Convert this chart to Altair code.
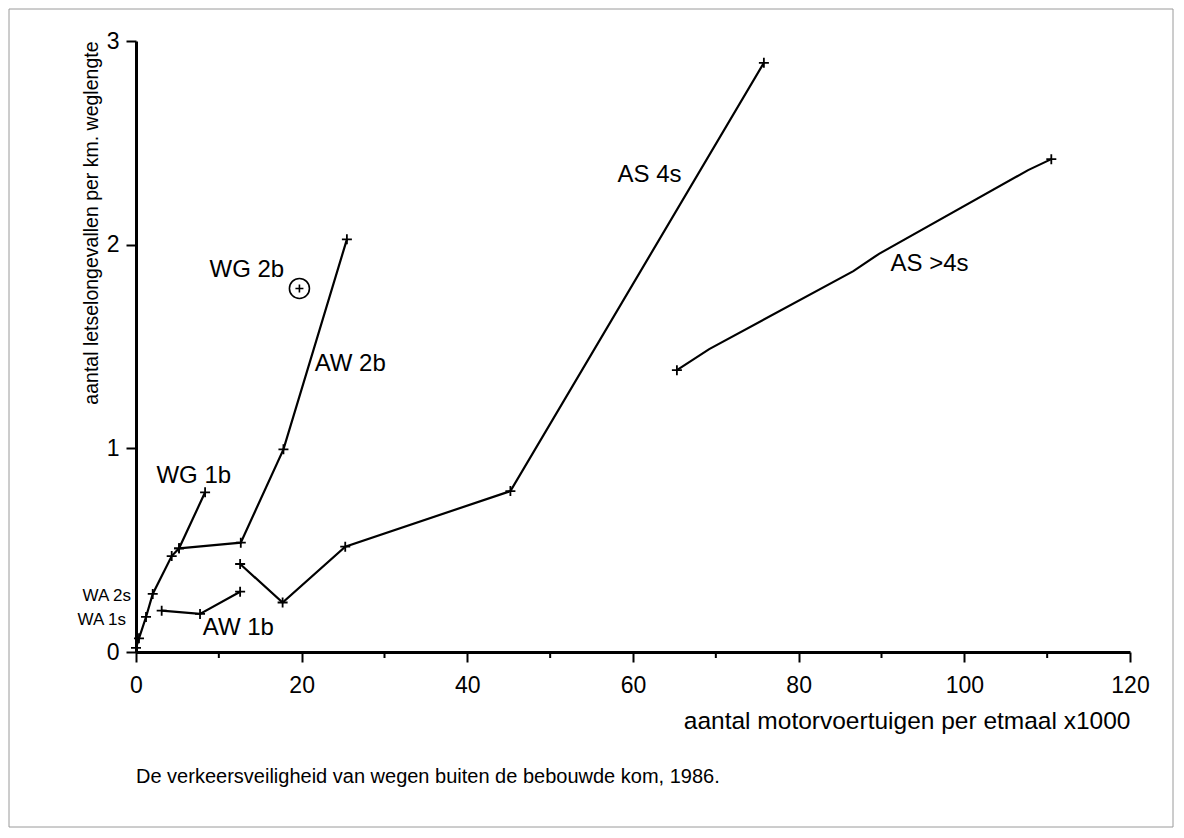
import altair as alt
import pandas as pd

# ---- data ----
wg1b_x = [0.0, 0.36, 1.21, 2.02, 4.31, 5.2, 8.34]
wg1b_y = [0.02, 0.067, 0.172, 0.285, 0.471, 0.509, 0.784]

aw2b_x = [5.2, 12.65, 17.8, 25.46]
aw2b_y = [0.509, 0.537, 0.995, 2.026]

aw1b_x = [3.1, 7.73, 12.57]
aw1b_y = [0.203, 0.187, 0.296]

as4s_x = [12.57, 17.7, 25.26, 45.2, 75.8]
as4s_y = [0.432, 0.243, 0.517, 0.79, 2.893]

asgt4s_x = [65.3, 69.2, 86.6, 89.7, 107.7, 110.5]
asgt4s_y = [1.384, 1.487, 1.87, 1.955, 2.366, 2.42]
asgt4s_marker = [True, False, False, False, False, True]

wg2b_x = [19.73]
wg2b_y = [1.785]

label_text = ["WG 1b", "WG 2b", "AW 2b", "AW 1b", "AS 4s", "AS >4s"]
label_x = [6.97, 13.38, 25.86, 12.36, 62.0, 95.8]
label_y = [0.862, 1.875, 1.414, 0.118, 2.342, 1.907]

small_label_text = ["WA 2s", "WA 1s"]
small_label_x = [-0.6, -1.2]
small_label_y = [0.275, 0.157]

x_ticks = [0, 20, 40, 60, 80, 100, 120]
x_minor_ticks = [10, 30, 50, 70, 90, 110]
y_ticks = [0, 1, 2, 3]

x_title = "aantal motorvoertuigen per etmaal x1000"
y_title = "aantal letselongevallen per km. weglengte"
caption = ["De verkeersveiligheid van wegen buiten de bebouwde kom, 1986."]

FONT = "Liberation Sans"

# ---- build tables ----
rows = []
def add(name, xs, ys, marks=None):
    for i, (xv, yv) in enumerate(zip(xs, ys)):
        rows.append({"series": name, "ord": i, "x": xv, "y": yv,
                     "marker": True if marks is None else marks[i]})

add("WG 1b", wg1b_x, wg1b_y)
add("AW 2b", aw2b_x, aw2b_y)
add("AW 1b", aw1b_x, aw1b_y)
add("AS 4s", as4s_x, as4s_y)
add("AS >4s", asgt4s_x, asgt4s_y, asgt4s_marker)
lines_df = pd.DataFrame(rows)

wg2b_df = pd.DataFrame({"x": wg2b_x, "y": wg2b_y})
labels_df = pd.DataFrame({"t": label_text, "x": label_x, "y": label_y})
small_df = pd.DataFrame({"t": small_label_text, "x": small_label_x, "y": small_label_y})
minor_df = pd.DataFrame({"x": x_minor_ticks})
frame_df = pd.DataFrame({"k": [0]})
caption_df = pd.DataFrame({"t": caption})

W, H = 994, 611
PL, PT, PR, PB = 128, 33, 44, 176

xscale = alt.Scale(domain=[0, 120], nice=False, zero=False)
yscale = alt.Scale(domain=[0, 3], nice=False, zero=False)

xaxis = alt.Axis(values=x_ticks, title=x_title, tickSize=10, tickWidth=2,
                 domainWidth=3, domainColor="black", tickColor="black",
                 labelColor="black", labelFont=FONT, labelFontSize=23,
                 labelPadding=12, labelFlush=False, labelOverlap=False,
                 grid=False, format="d",
                 titleFont=FONT, titleFontSize=24.5, titleFontWeight="normal",
                 titleColor="black", titleAnchor="end", titlePadding=12)
yaxis = alt.Axis(values=y_ticks, title=y_title, tickSize=10, tickWidth=2,
                 domainWidth=3, domainColor="black", tickColor="black",
                 labelColor="black", labelFont=FONT, labelFontSize=23,
                 labelPadding=7, labelFlush=False, labelOverlap=False,
                 grid=False, format="d",
                 titleFont=FONT, titleFontSize=19.5, titleFontWeight="normal",
                 titleColor="black", titleAnchor="end", titlePadding=5)

base = alt.Chart(lines_df)

lines = base.mark_line(color="black", strokeWidth=2.2).encode(
    x=alt.X("x:Q", scale=xscale, axis=xaxis),
    y=alt.Y("y:Q", scale=yscale, axis=yaxis),
    detail="series:N",
    order="ord:Q",
)

PLUS = "M-1,0L1,0M0,-1L0,1"
points = base.transform_filter("datum.marker").mark_point(
    shape=PLUS, size=100, color="black", strokeWidth=1.8, filled=False, opacity=1
).encode(x="x:Q", y="y:Q")

wg2b_circle = alt.Chart(wg2b_df).mark_point(
    shape="circle", size=400, color="black", strokeWidth=1.6, filled=False, opacity=1
).encode(x="x:Q", y="y:Q")
wg2b_plus = alt.Chart(wg2b_df).mark_point(
    shape=PLUS, size=64, color="black", strokeWidth=1.6, filled=False, opacity=1
).encode(x="x:Q", y="y:Q")

labels = alt.Chart(labels_df).mark_text(
    font=FONT, fontSize=24, color="black", align="center", baseline="middle"
).encode(x="x:Q", y="y:Q", text="t:N")

small_labels = alt.Chart(small_df).mark_text(
    font=FONT, fontSize=17, color="black", align="right", baseline="middle"
).encode(x="x:Q", y="y:Q", text="t:N")

minor = alt.Chart(minor_df).mark_rule(color="black", strokeWidth=2).encode(
    x="x:Q", y=alt.value(H), y2=alt.value(H + 6)
)

frame = alt.Chart(frame_df).mark_rect(
    fill=None, stroke="#9a9a9a", strokeWidth=1
).encode(
    x=alt.value(-PL + 1), x2=alt.value(W + PR - 1),
    y=alt.value(-PT + 1), y2=alt.value(H + PB - 1)
)

caption_text = alt.Chart(caption_df).mark_text(
    font=FONT, fontSize=20, color="black", align="left", baseline="middle"
).encode(x=alt.value(0), y=alt.value(736), text="t:N")

chart = alt.layer(
    frame, lines, points, wg2b_circle, wg2b_plus, labels, small_labels, minor,
    caption_text
).properties(
    width=W, height=H,
    autosize=alt.AutoSizeParams(type="none"),
    padding={"left": PL, "top": PT, "right": PR, "bottom": PB},
    background="white",
).configure_view(stroke=None)

chart.save("out.html", embed_options={"renderer": "svg", "actions": False})
